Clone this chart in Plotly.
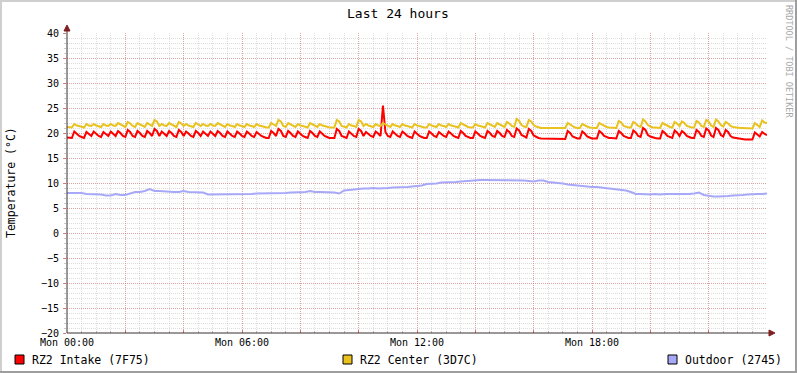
import plotly.graph_objects as go
import pandas as pd

# ---- data (5-minute samples for the two RZ2 sensors, 10-minute for outdoor) ----
intake = [
    19.1, 19.0, 19.0, 20.3, 19.9, 19.4, 19.2, 19.0, 20.2, 19.8, 19.4, 20.3,
    19.9, 19.4, 19.2, 20.2, 19.8, 19.4, 20.3, 19.9, 19.4, 20.4, 20.0, 19.4,
    19.2, 20.6, 20.2, 19.4, 19.2, 20.4, 20.0, 19.4, 19.2, 20.4, 20.0, 19.4,
    20.8, 20.4, 19.4, 20.3, 19.9, 19.4, 20.4, 20.0, 19.4, 19.2, 20.6, 20.2,
    19.4, 20.3, 19.9, 19.4, 19.2, 20.4, 20.0, 19.4, 20.3, 19.9, 19.4, 20.3,
    19.9, 19.4, 20.4, 20.0, 19.4, 19.2, 20.3, 19.9, 19.4, 19.2, 20.3, 19.9,
    19.4, 19.2, 20.3, 19.9, 19.4, 19.2, 20.2, 19.8, 19.4, 19.2, 19.0, 19.0,
    20.4, 20.0, 19.4, 20.8, 20.4, 19.4, 19.2, 20.4, 20.0, 19.4, 19.2, 20.3,
    19.9, 19.4, 19.2, 19.0, 20.4, 20.0, 19.4, 19.2, 20.3, 19.9, 19.4, 19.2,
    19.0, 19.0, 19.0, 20.8, 20.4, 19.4, 19.2, 19.0, 20.3, 19.9, 19.4, 19.2,
    20.8, 20.4, 19.4, 20.2, 19.8, 19.4, 19.2, 20.3, 19.9, 19.4, 25.5, 20.2,
    19.4, 19.2, 20.3, 19.9, 19.4, 19.2, 20.3, 19.9, 19.4, 19.2, 19.0, 20.3,
    19.9, 19.4, 19.2, 19.0, 19.0, 20.3, 19.9, 19.4, 19.2, 20.2, 19.8, 19.4,
    19.2, 20.3, 19.9, 19.4, 19.2, 19.0, 20.4, 20.0, 19.4, 19.2, 19.0, 19.0,
    20.3, 19.9, 19.4, 19.2, 19.0, 20.4, 20.0, 19.4, 19.2, 20.4, 20.0, 19.4,
    19.2, 20.6, 20.2, 19.4, 19.2, 20.9, 20.5, 19.6, 19.3, 19.1, 20.8, 20.4,
    19.5, 19.2, 19.0, 18.9, 18.9, 18.9, 18.9, 18.9, 18.8, 18.8, 18.8, 18.8,
    18.8, 18.8, 20.4, 20.0, 19.3, 19.1, 18.9, 18.9, 20.3, 19.9, 19.3, 19.1,
    18.9, 18.9, 18.9, 20.4, 20.0, 19.4, 19.2, 19.0, 19.0, 18.9, 18.9, 20.4,
    20.0, 19.4, 19.2, 19.0, 19.0, 20.5, 20.1, 19.4, 19.2, 21.0, 20.6, 19.6,
    19.3, 19.1, 19.0, 18.9, 18.9, 20.4, 20.0, 19.4, 19.2, 19.0, 20.5, 20.1,
    19.4, 20.4, 20.0, 19.4, 19.2, 19.0, 19.0, 20.6, 20.2, 19.4, 19.2, 20.9,
    20.5, 19.5, 19.2, 21.0, 20.6, 19.6, 19.3, 20.6, 20.2, 19.4, 19.1, 19.0,
    18.9, 18.8, 18.8, 18.7, 18.7, 18.7, 18.7, 20.1, 19.7, 19.3, 20.2, 19.8,
    19.6,
]

center = [
    21.2, 21.1, 21.1, 21.8, 21.5, 21.4, 21.2, 21.1, 21.8, 21.5, 21.4, 21.8,
    21.5, 21.4, 21.2, 21.8, 21.5, 21.4, 21.8, 21.5, 21.4, 22.0, 21.7, 21.4,
    21.2, 22.2, 21.9, 21.4, 21.2, 22.0, 21.7, 21.4, 21.2, 22.0, 21.7, 21.4,
    22.6, 22.3, 21.4, 21.8, 21.5, 21.4, 22.0, 21.7, 21.4, 21.2, 22.2, 21.9,
    21.4, 21.8, 21.5, 21.4, 21.2, 22.0, 21.7, 21.4, 21.8, 21.5, 21.4, 21.8,
    21.5, 21.4, 22.0, 21.7, 21.4, 21.2, 21.8, 21.5, 21.4, 21.2, 21.8, 21.5,
    21.4, 21.2, 21.8, 21.5, 21.4, 21.2, 21.8, 21.5, 21.4, 21.2, 21.1, 21.1,
    22.0, 21.7, 21.4, 22.6, 22.3, 21.4, 21.2, 22.0, 21.7, 21.4, 21.2, 21.8,
    21.5, 21.4, 21.2, 21.1, 22.0, 21.7, 21.4, 21.2, 21.8, 21.5, 21.4, 21.2,
    21.1, 21.1, 21.1, 22.6, 22.3, 21.4, 21.2, 21.1, 21.8, 21.5, 21.4, 21.2,
    22.6, 22.3, 21.4, 21.8, 21.5, 21.4, 21.2, 21.8, 21.5, 21.4, 22.0, 21.7,
    21.4, 21.2, 21.8, 21.5, 21.4, 21.2, 21.8, 21.5, 21.4, 21.2, 21.1, 21.8,
    21.5, 21.4, 21.2, 21.1, 21.1, 21.8, 21.5, 21.4, 21.2, 21.8, 21.5, 21.4,
    21.2, 21.8, 21.5, 21.4, 21.2, 21.1, 22.0, 21.7, 21.4, 21.2, 21.1, 21.1,
    21.8, 21.5, 21.4, 21.2, 21.1, 22.0, 21.7, 21.4, 21.2, 22.0, 21.7, 21.4,
    21.2, 22.2, 21.9, 21.4, 21.2, 22.8, 22.4, 21.6, 21.3, 21.2, 22.6, 22.3,
    21.6, 21.3, 21.1, 21.0, 21.0, 21.0, 21.0, 21.0, 21.0, 21.0, 21.0, 21.0,
    21.0, 21.0, 22.0, 21.7, 21.3, 21.1, 21.0, 21.0, 21.8, 21.5, 21.3, 21.1,
    21.0, 21.0, 21.0, 22.0, 21.7, 21.4, 21.2, 21.1, 21.1, 21.0, 21.0, 22.4,
    22.1, 21.4, 21.2, 21.1, 21.1, 22.2, 21.9, 21.4, 21.2, 22.7, 22.3, 21.6,
    21.3, 21.1, 21.1, 21.0, 21.0, 22.0, 21.7, 21.4, 21.2, 21.1, 22.2, 21.9,
    21.4, 22.3, 22.0, 21.4, 21.2, 21.1, 21.1, 22.4, 22.1, 21.4, 21.2, 22.6,
    22.3, 21.5, 21.2, 22.7, 22.3, 21.6, 21.3, 22.2, 21.9, 21.4, 21.2, 21.1,
    21.1, 21.0, 21.0, 21.0, 20.9, 20.9, 20.9, 22.0, 21.6, 21.2, 22.5, 22.1,
    22.0,
]

outdoor = [
    8.0, 8.0, 8.0, 8.0, 7.8, 7.8, 7.7, 7.7, 7.5, 7.5, 7.8, 7.6,
    7.6, 7.9, 8.2, 8.2, 8.4, 8.8, 8.4, 8.4, 8.3, 8.2, 8.2, 8.2,
    8.4, 8.2, 8.2, 8.2, 8.1, 7.7, 7.7, 7.7, 7.7, 7.7, 7.7, 7.7,
    7.8, 7.8, 7.8, 7.9, 7.9, 8.0, 8.0, 8.0, 8.0, 8.0, 8.1, 8.1,
    8.1, 8.2, 8.4, 8.2, 8.2, 8.2, 8.2, 8.1, 7.9, 8.5, 8.6, 8.7,
    8.9, 8.9, 8.9, 9.0, 8.9, 8.9, 9.0, 9.1, 9.1, 9.1, 9.2, 9.3,
    9.4, 9.5, 9.8, 9.8, 9.9, 10.1, 10.1, 10.1, 10.2, 10.3, 10.4, 10.4,
    10.5, 10.6, 10.6, 10.6, 10.6, 10.5, 10.6, 10.5, 10.6, 10.5, 10.5, 10.4,
    10.3, 10.5, 10.5, 10.2, 10.1, 10.1, 9.9, 9.7, 9.6, 9.4, 9.3, 9.3,
    9.2, 9.2, 9.1, 8.9, 8.8, 8.7, 8.6, 8.5, 8.2, 7.8, 7.8, 7.7,
    7.7, 7.8, 7.7, 7.8, 7.8, 7.7, 7.8, 7.8, 7.8, 7.9, 8.1, 7.6,
    7.4, 7.3, 7.3, 7.3, 7.4, 7.5, 7.5, 7.6, 7.7, 7.8, 7.8, 7.8,
    7.9,
]

series_names = ["RZ2 Intake (7F75)", "RZ2 Center (3D7C)", "Outdoor (2745)"]
series_colors = ["#FF0000", "#E9C21F", "#A8A8F8"]

x_tick_text = ["Mon 00:00", "", "", "Mon 06:00", "", "", "Mon 12:00",
               "", "", "Mon 18:00", "", "", ""]
y_tick_vals = [-20, -15, -10, -5, 0, 5, 10, 15, 20, 25, 30, 35, 40]

assert len(intake) == 289 and len(center) == 289 and len(outdoor) == 145

t5 = pd.date_range("2024-01-01 00:00", periods=len(intake), freq="5min")
t10 = pd.date_range("2024-01-01 00:00", periods=len(outdoor), freq="10min")
x_tick_vals = pd.date_range("2024-01-01 00:00", periods=len(x_tick_text), freq="2h")

# ---- layout geometry (pixels) ----
FW, FH = 797, 373
L, T, W, H = 67, 33, 700, 300


def px(x):
    return (x - L) / W


def py(y):
    return (T + H - y) / H


MONO = "DejaVu Sans Mono"

fig = go.Figure()
for xs, ys, name, col in [(t5, intake, series_names[0], series_colors[0]),
                          (t5, center, series_names[1], series_colors[1]),
                          (t10, outdoor, series_names[2], series_colors[2])]:
    fig.add_trace(go.Scatter(x=xs, y=ys, mode="lines", name=name,
                             line=dict(color=col, width=2, shape="linear"),
                             hoverinfo="skip", showlegend=False))

major_grid = "rgba(222,80,80,0.40)"
minor_grid = "rgba(150,150,150,0.32)"

fig.update_xaxes(
    range=[t5[0], t5[-1]],
    tickvals=list(x_tick_vals), ticktext=x_tick_text,
    showgrid=True, gridcolor=major_grid, griddash="1px,1px", gridwidth=1,
    ticks="inside", ticklen=3, tickcolor="rgba(222,80,80,0.7)",
    tickfont=dict(family=MONO, size=10, color="#000"),
    ticklabelstandoff=2,
    showline=False, zeroline=False,
    minor=dict(dtick=1800000, showgrid=True, gridcolor=minor_grid,
               griddash="1px,1px", ticks="inside", ticklen=2,
               tickcolor="rgba(150,150,150,0.6)"),
)
fig.update_yaxes(
    range=[-20, 40],
    tickvals=y_tick_vals,
    showgrid=True, gridcolor=major_grid, griddash="1px,1px", gridwidth=1,
    ticks="outside", ticklen=3, tickcolor="rgba(222,80,80,0.7)",
    tickfont=dict(family=MONO, size=10, color="#000"),
    ticklabelstandoff=2,
    showline=False, zeroline=False,
    minor=dict(dtick=1, showgrid=True, gridcolor=minor_grid,
               griddash="1px,1px", ticks="outside", ticklen=2,
               tickcolor="rgba(150,150,150,0.5)"),
)

shapes = []
# outer 3D border
shapes.append(dict(type="rect", xref="paper", yref="paper", x0=px(0), x1=px(FW), y0=py(0), y1=py(2),
                   fillcolor="#CFCFCF", line=dict(width=0), layer="above"))
shapes.append(dict(type="rect", xref="paper", yref="paper", x0=px(0), x1=px(2), y0=py(0), y1=py(FH),
                   fillcolor="#CFCFCF", line=dict(width=0), layer="above"))
shapes.append(dict(type="rect", xref="paper", yref="paper", x0=px(0), x1=px(FW), y0=py(FH - 2), y1=py(FH),
                   fillcolor="#9E9E9E", line=dict(width=0), layer="above"))
shapes.append(dict(type="rect", xref="paper", yref="paper", x0=px(FW - 2), x1=px(FW), y0=py(0), y1=py(FH),
                   fillcolor="#9E9E9E", line=dict(width=0), layer="above"))
# axes with arrows
axis_col = "#3A3030"
arrow_col = "#7F1F1F"
shapes.append(dict(type="line", xref="paper", yref="paper", x0=0, x1=0, y0=0, y1=py(28),
                   line=dict(color=axis_col, width=1), layer="above"))
shapes.append(dict(type="line", xref="paper", yref="paper", x0=0, x1=px(771), y0=0, y1=0,
                   line=dict(color=axis_col, width=1), layer="above"))
shapes.append(dict(type="path", xref="paper", yref="paper",
                   path=f"M {px(64)},{py(31)} L {px(70)},{py(31)} L {px(67)},{py(25)} Z",
                   fillcolor=arrow_col, line=dict(color=arrow_col, width=1), layer="above"))
shapes.append(dict(type="path", xref="paper", yref="paper",
                   path=f"M {px(769)},{py(330)} L {px(769)},{py(336)} L {px(775)},{py(333)} Z",
                   fillcolor=arrow_col, line=dict(color=arrow_col, width=1), layer="above"))

annotations = []
# title
annotations.append(dict(text="Last 24 hours", xref="paper", yref="paper", x=px(398), y=py(13),
                        xanchor="center", yanchor="middle", showarrow=False,
                        font=dict(family=MONO, size=13, color="#000")))
# y-axis title
annotations.append(dict(text="Temperature (°C)", xref="paper", yref="paper", x=px(11), y=py(183),
                        xanchor="center", yanchor="middle", showarrow=False, textangle=-90,
                        font=dict(family=MONO, size=11.5, color="#000")))
# watermark
annotations.append(dict(text="RRDTOOL / TOBI OETIKER", xref="paper", yref="paper", x=px(789), y=py(61),
                        xanchor="center", yanchor="middle", showarrow=False, textangle=90,
                        font=dict(family=MONO, size=8.5, color="#A8A8A8")))
# legend
legend_sq_x = [15, 343, 668]
for name, col, sx in zip(series_names, series_colors, legend_sq_x):
    shapes.append(dict(type="rect", xref="paper", yref="paper", x0=px(sx), x1=px(sx + 9),
                       y0=py(355), y1=py(364), fillcolor=col,
                       line=dict(color="#000", width=1), layer="above"))
    annotations.append(dict(text=name, xref="paper", yref="paper", x=px(sx + 15), y=py(359.5),
                            xanchor="left", yanchor="middle", showarrow=False,
                            font=dict(family=MONO, size=11.5, color="#000")))

fig.update_layout(
    width=FW, height=FH,
    margin=dict(l=L, r=FW - L - W, t=T, b=FH - T - H, pad=0),
    paper_bgcolor="#FFFFFF", plot_bgcolor="#FFFFFF",
    showlegend=False,
    shapes=shapes, annotations=annotations,
    hovermode=False,
)

fig.write_html("out.html")
